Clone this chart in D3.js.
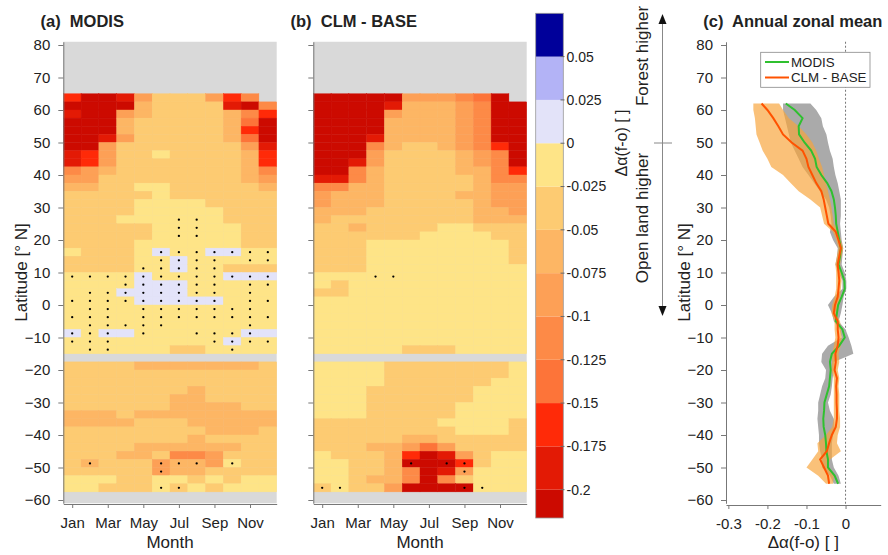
<!DOCTYPE html>
<html><head><meta charset="utf-8">
<script src="https://cdn.jsdelivr.net/npm/d3@7/dist/d3.min.js"></script>
<style>
body{margin:0;background:#fff;}
svg text{font-family:"Liberation Sans",Arial,Helvetica,sans-serif;fill:#222;}
</style></head><body>
<svg id="chart" width="888" height="555"></svg>
<script>
// ---------------- DATA ----------------
const months = ["Jan","Feb","Mar","Apr","May","Jun","Jul","Aug","Sep","Oct","Nov","Dec"];
const monthTicks = [1,3,5,7,9,11];
const latTicks = [80,70,60,50,40,30,20,10,0,-10,-20,-30,-40,-50,-60];
const zonalXTicks = [-0.3,-0.2,-0.1,0];
const cbarTicks = [0.05,0.025,0,-0.025,-0.05,-0.075,-0.1,-0.125,-0.15,-0.175,-0.2];
// upper edge (°N) of each 2.5° latitude row
const latTops = [65,62.5,60,57.5,55,52.5,50,47.5,45,42.5,40,37.5,35,32.5,30,27.5,25,22.5,20,17.5,15,12.5,10,7.5,5,2.5,0,-2.5,-5,-7.5,-10,-12.5,-15,-17.5,-20,-22.5,-25,-27.5,-30,-32.5,-35,-37.5,-40,-42.5,-45,-47.5,-50,-52.5,-55];
// class codes -> representative Δα value (bin centre); '.' = no data
const classValue = {"B":0.0625,"b":0.0375,"l":0.0125,"0":-0.0125,"1":-0.0375,"2":-0.0625,"3":-0.0875,"4":-0.1125,"5":-0.1375,"6":-0.1625,"7":-0.1875,"8":-0.2125};
// monthly Δα(f-o) classes, Jan..Dec, one string per latitude row
const modisRows = [
"68873111364.","888821111784","788321111246","888211111258","888211111268","887311111258",
"883111111137","763110111126","763111111126","432111111124","331111111123","221100111112",
"111110111111","111100001111","111100000111","111000000111","111110000011","111110000011",
"111100000011","01110l00ll00","111100l00000","111100l00111","0000l0000lll","0000lll00000",
"000llll00000","0000lllll000","000000000000","000000000000","000000000000","l0ll000000ll",
"000000000l00","000000110000","............","111122222221","111111111111","111111111111",
"111111121111","111111221111","111111222211","222122222222","222211122222","111111112221",
"111111121111","111122222211","111221443111","121113223011","111113221111","000110010100",
"001110101000"];
const clmRows = [
"88888333458.","888872223488","888832223488","888822223488","888822223488","888722223488",
"888421123468","888311112348","887311112348","884211112246","774211111244","442211111233",
"322211112233","322211111233","222111111223","211111111222","112111100111","111111000011",
"111000000001","111000000001","111000000001","111000000000","000000000000","010000000000",
"110000000000","000000000000","000000000000","000000000000","000000000000","000000000000",
"000000000000","000001110000","............","000011111110","000011111110","000011111100",
"000111111000","000111111000","000111110000","000111110000","111111100001","111111110001",
"111112211111","111223531111","011126873100","001128886100","001124873000","001224841000",
"101138888000"];
// significant cells: [row upper edge latitude, month number]
const modisSig = [
[27.5,7],[27.5,8],[25,7],[25,8],[22.5,7],[22.5,8],
[17.5,6],[17.5,7],[17.5,8],[17.5,9],[17.5,10],[17.5,11],[17.5,12],
[15,6],[15,7],[15,8],[15,9],[15,11],[15,12],
[12.5,5],[12.5,6],[12.5,7],[12.5,8],[12.5,9],
[10,1],[10,2],[10,3],[10,4],[10,5],[10,6],[10,7],[10,8],[10,9],[10,10],[10,11],[10,12],
[7.5,4],[7.5,5],[7.5,6],[7.5,7],[7.5,8],[7.5,9],[7.5,11],[7.5,12],
[5,2],[5,3],[5,4],[5,5],[5,6],[5,7],[5,8],[5,9],[5,11],
[2.5,1],[2.5,2],[2.5,3],[2.5,4],[2.5,5],[2.5,6],[2.5,7],[2.5,8],[2.5,9],[2.5,11],[2.5,12],
[0,2],[0,3],[0,5],[0,6],[0,7],[0,8],[0,9],[0,10],[0,11],
[-2.5,1],[-2.5,2],[-2.5,3],[-2.5,5],[-2.5,6],[-2.5,7],[-2.5,8],[-2.5,9],[-2.5,10],[-2.5,11],[-2.5,12],
[-5,2],[-5,3],[-5,4],[-5,5],[-5,6],[-5,11],
[-7.5,1],[-7.5,2],[-7.5,3],[-7.5,5],[-7.5,8],[-7.5,9],[-7.5,10],[-7.5,11],
[-10,1],[-10,2],[-10,3],[-10,9],[-10,10],[-10,11],[-10,12],
[-12.5,2],[-12.5,3],[-12.5,10],
[-47.5,2],[-47.5,6],[-47.5,7],[-47.5,8],[-47.5,10],
[-50,6],[-55,6],[-55,7]];
const clmSig = [[10,4],[10,5],[-47.5,6],[-47.5,8],[-47.5,9],[-50,9],[-55,1],[-55,2],[-55,9],[-55,10]];
// annual zonal means (panel c)
const zonalLat = [62,60,57.5,55,52.5,50,47.5,45,42.5,40,37.5,35,32.5,30,27.5,25,22.5,20,17.5,15,12.5,10,7.5,5,2.5,0,-2.5,-5,-7.5,-10,-12.5,-15,-17.5,-20,-22.5,-25,-27.5,-30,-32.5,-35,-37.5,-40,-42.5,-45,-47.5,-50,-52.5,-55];
const modisMean = [-0.153,-0.13,-0.11,-0.12,-0.119,-0.105,-0.088,-0.078,-0.074,-0.062,-0.047,-0.036,-0.03,-0.027,-0.025,-0.024,-0.02,-0.016,-0.012,-0.014,-0.018,-0.01,-0.003,-0.002,-0.01,-0.019,-0.022,-0.025,-0.008,-0.002,-0.016,-0.035,-0.04,-0.038,-0.04,-0.042,-0.048,-0.054,-0.055,-0.057,-0.056,-0.052,-0.05,-0.049,-0.045,-0.045,-0.028,-0.019];
const modisLo = [-0.16,-0.16,-0.155,-0.15,-0.145,-0.14,-0.13,-0.12,-0.11,-0.095,-0.08,-0.065,-0.05,-0.042,-0.038,-0.036,-0.04,-0.032,-0.02,-0.022,-0.026,-0.018,-0.008,-0.008,-0.03,-0.045,-0.035,-0.03,-0.015,-0.01,-0.045,-0.06,-0.062,-0.05,-0.052,-0.06,-0.065,-0.07,-0.07,-0.072,-0.07,-0.068,-0.068,-0.065,-0.06,-0.06,-0.04,-0.03];
const modisHi = [-0.09,-0.075,-0.062,-0.058,-0.049,-0.045,-0.04,-0.033,-0.03,-0.026,-0.02,-0.016,-0.012,-0.012,-0.012,-0.014,-0.012,-0.01,-0.006,-0.008,-0.01,-0.002,0.002,0.002,-0.005,-0.008,-0.012,-0.018,0.0,0.008,0.015,0.02,-0.03,-0.03,-0.033,-0.035,-0.038,-0.045,-0.04,-0.03,-0.028,-0.032,-0.035,-0.035,-0.035,-0.03,-0.018,-0.012];
const clmMean = [-0.215,-0.2,-0.185,-0.172,-0.16,-0.138,-0.11,-0.1,-0.095,-0.085,-0.075,-0.062,-0.056,-0.052,-0.048,-0.044,-0.025,-0.018,-0.012,-0.016,-0.02,-0.018,-0.016,-0.018,-0.02,-0.027,-0.03,-0.02,-0.02,-0.018,-0.02,-0.026,-0.025,-0.028,-0.022,-0.024,-0.023,-0.023,-0.022,-0.022,-0.025,-0.035,-0.042,-0.048,-0.065,-0.055,-0.045,-0.042];
const clmLo = [-0.236,-0.236,-0.232,-0.23,-0.228,-0.22,-0.212,-0.2,-0.19,-0.16,-0.14,-0.12,-0.09,-0.065,-0.06,-0.055,-0.032,-0.024,-0.018,-0.022,-0.026,-0.024,-0.024,-0.024,-0.028,-0.034,-0.036,-0.028,-0.028,-0.026,-0.03,-0.034,-0.034,-0.036,-0.03,-0.03,-0.03,-0.03,-0.03,-0.03,-0.034,-0.05,-0.072,-0.07,-0.085,-0.1,-0.07,-0.05];
const clmHi = [-0.17,-0.16,-0.145,-0.12,-0.1,-0.085,-0.075,-0.068,-0.06,-0.055,-0.05,-0.045,-0.04,-0.036,-0.033,-0.03,-0.018,-0.012,-0.006,-0.01,-0.014,-0.012,-0.01,-0.012,-0.014,-0.02,-0.024,-0.014,-0.012,-0.01,-0.012,-0.018,-0.016,-0.02,-0.016,-0.018,-0.016,-0.016,-0.016,-0.014,-0.014,-0.02,-0.022,-0.012,-0.04,-0.045,-0.03,-0.032];

// ---------------- STYLE / SCALES ----------------
const colorBreaks = [-0.2,-0.175,-0.15,-0.125,-0.1,-0.075,-0.05,-0.025,0,0.025,0.05];
const colorRange = ["#cc0a00","#e31a05","#ff2a08","#fd7439","#fd8a47","#fda056","#fdb664","#fdcb72","#fee487","#e3e3f9","#b3b3f6","#00009a"];
const color = d3.scaleThreshold().domain(colorBreaks).range(colorRange);
const FONT_TICK = "15px", AXIS_COL = "#777";
const svg = d3.select("#chart");
const y = d3.scaleLinear().domain([-61, 81]).range([503.25, 41.75]);
const yBottom = 504;

function styleAxis(g){
  g.selectAll("path.domain").attr("stroke", AXIS_COL);
  g.selectAll(".tick line").attr("stroke", AXIS_COL);
  g.selectAll(".tick text").attr("fill","#2a2a2a").style("font-size",FONT_TICK)
   .style("font-family","'Liberation Sans',Arial,sans-serif");
}
function rotLabel(x, yc, txt, size){
  svg.append("text").attr("transform",`translate(${x},${yc}) rotate(-90)`)
    .attr("text-anchor","middle").style("font-size",size).text(txt);
}

// ---------------- HEATMAP PANELS ----------------
const panels = [
  {rows: modisRows, sig: modisSig, x0: 63.3, title: "(a)  MODIS", tx: 40.5, labels: true},
  {rows: clmRows,   sig: clmSig,   x0: 313.3, title: "(b)  CLM - BASE", tx: 290.5, labels: false}
];
panels.forEach(p => {
  const x = d3.scaleLinear().domain([0.5, 12.5]).range([p.x0, p.x0 + 213.4]);
  const g = svg.append("g");
  g.append("rect").attr("x", x(0.5)).attr("y", y(81)).attr("width", x(12.5)-x(0.5))
    .attr("height", y(-61)-y(81)).attr("fill","#d9d9d9");
  const cells = [];
  p.rows.forEach((row, i) => {
    row.split("").forEach((c, j) => {
      if (c !== ".") cells.push({top: latTops[i], m: j+1, v: classValue[c]});
    });
  });
  g.selectAll("rect.cell").data(cells).join("rect").attr("class","cell")
    .attr("x", d => x(d.m-0.5)).attr("width", d => x(d.m+0.5)-x(d.m-0.5))
    .attr("y", d => y(d.top)).attr("height", d => y(d.top-2.5)-y(d.top))
    .attr("fill", d => color(d.v)).attr("stroke", d => color(d.v)).attr("stroke-width",0.4);
  g.selectAll("circle.sig").data(p.sig).join("circle").attr("class","sig")
    .attr("cx", d => x(d[1])).attr("cy", d => y(d[0]-1.25)).attr("r",1.15).attr("fill","#000");
  const ya = svg.append("g").attr("transform",`translate(${p.x0},0)`)
    .call(d3.axisLeft(y).tickValues(latTicks).tickSize(5).tickPadding(8).tickSizeOuter(0)
      .tickFormat(p.labels ? d3.format("d") : ""));
  styleAxis(ya);
  const xa = svg.append("g").attr("transform",`translate(0,${yBottom})`)
    .call(d3.axisBottom(x).tickValues(monthTicks).tickSize(4).tickPadding(9).tickSizeOuter(0)
      .tickFormat(m => months[m-1]));
  styleAxis(xa);
  svg.append("text").attr("x",(x(0.5)+x(12.5))/2).attr("y",548).attr("text-anchor","middle")
    .style("font-size","17px").text("Month");
  svg.append("text").attr("x",p.tx).attr("y",27).style("font-size","16.5px").style("font-weight","bold")
    .style("white-space","pre").attr("xml:space","preserve").text(p.title);
});
rotLabel(27, 272.5, "Latitude [° N]", "17px");

// ---------------- COLORBAR ----------------
const cb = d3.scaleLinear().domain([0.075, -0.225]).range([13.3, 533]);
const cbBottom = 518;
const cbBins = colorRange.map((col, i) => ({col, lo: i===0 ? -0.225 : colorBreaks[i-1], hi: i===colorRange.length-1 ? 0.075 : colorBreaks[i]}));
svg.append("g").selectAll("rect").data(cbBins).join("rect")
  .attr("x",535.7).attr("width",27.6)
  .attr("y", d => cb(d.hi)).attr("height", d => Math.min(cb(d.lo), cbBottom) - cb(d.hi))
  .attr("fill", d => d.col);
svg.append("rect").attr("x",535.7).attr("y",13.3).attr("width",27.6).attr("height",cbBottom-13.3)
  .attr("fill","none").attr("stroke","#999").attr("stroke-width",0.8);
const cbt = svg.append("g");
cbt.selectAll("line").data(cbarTicks).join("line").attr("x1",560.5).attr("x2",564.5)
  .attr("y1", d => cb(d)).attr("y2", d => cb(d)).attr("stroke","#666");
cbt.selectAll("text").data(cbarTicks).join("text").attr("x",566.5).attr("y", d => cb(d)).attr("dy","0.35em")
  .style("font-size","14px").text(d => d === 0 ? "0" : String(d));
rotLabel(627, 143, "Δα(f-o) [ ]", "16px");

// ---------------- ANNOTATION ARROW ----------------
svg.append("line").attr("x1",662.5).attr("x2",662.5).attr("y1",20).attr("y2",310).attr("stroke","#888");
svg.append("path").attr("d","M662.5,14 L658.5,24 L666.5,24 Z").attr("fill","#111");
svg.append("path").attr("d","M662.5,316 L658.5,306 L666.5,306 Z").attr("fill","#111");
svg.append("line").attr("x1",654).attr("x2",672).attr("y1",143).attr("y2",143).attr("stroke","#888");
rotLabel(648, 56, "Forest higher", "17px");
rotLabel(648, 218, "Open land higher", "17px");

// ---------------- PANEL C ----------------
const xc = d3.scaleLinear().domain([-0.306, 0.09]).range([726, 880.7]);
const zonal = zonalLat.map((lat, i) => ({lat, mm: modisMean[i], ml: modisLo[i], mh: modisHi[i], cm: clmMean[i], cl: clmLo[i], ch: clmHi[i]}));
svg.append("line").attr("x1",xc(0)).attr("x2",xc(0)).attr("y1",y(81)).attr("y2",yBottom)
  .attr("stroke","#555").attr("stroke-width",0.8).attr("stroke-dasharray","2,2");
svg.append("path").datum(zonal).attr("fill","#aaaaaa")
  .attr("d", d3.area().y(d => y(d.lat)).x0(d => xc(d.ml)).x1(d => xc(d.mh)));
svg.append("path").datum(zonal).attr("fill","#f7a33a").attr("fill-opacity",0.68)
  .attr("d", d3.area().y(d => y(d.lat)).x0(d => xc(d.cl)).x1(d => xc(d.ch)));
svg.append("path").datum(zonal).attr("fill","none").attr("stroke","#2fc02f").attr("stroke-width",2)
  .attr("d", d3.line().y(d => y(d.lat)).x(d => xc(d.mm)));
svg.append("path").datum(zonal).attr("fill","none").attr("stroke","#ff5200").attr("stroke-width",2)
  .attr("d", d3.line().y(d => y(d.lat)).x(d => xc(d.cm)));
const yc = svg.append("g").attr("transform","translate(726,0)")
  .call(d3.axisLeft(y).tickValues(latTicks).tickSize(5).tickPadding(8).tickSizeOuter(0));
styleAxis(yc);
const xca = svg.append("g").attr("transform",`translate(0,${yBottom+1})`)
  .call(d3.axisBottom(xc).tickValues(zonalXTicks).tickSize(4).tickPadding(9).tickSizeOuter(0)
    .tickFormat(d => d === 0 ? "0" : String(d)));
styleAxis(xca);
svg.append("text").attr("x",803.3).attr("y",548).attr("text-anchor","middle").style("font-size","17px").text("Δα(f-o) [ ]");
rotLabel(690, 272.5, "Latitude [° N]", "17px");
svg.append("text").attr("x",703.3).attr("y",27).style("font-size","16.5px").style("font-weight","bold")
  .style("white-space","pre").attr("xml:space","preserve").text("(c)  Annual zonal mean");
// legend
const lg = svg.append("g");
lg.append("rect").attr("x",760.7).attr("y",52.3).attr("width",109.3).attr("height",35)
  .attr("fill","#fff").attr("stroke","#888").attr("stroke-width",0.8);
const legendItems = [{name:"MODIS", col:"#2fc02f"}, {name:"CLM - BASE", col:"#ff5200"}];
legendItems.forEach((it, i) => {
  const yy = 62 + i*15.5;
  lg.append("line").attr("x1",765).attr("x2",789).attr("y1",yy).attr("y2",yy).attr("stroke",it.col).attr("stroke-width",2);
  lg.append("text").attr("x",791).attr("y",yy).attr("dy","0.36em").style("font-size","13.3px").text(it.name);
});
</script>
</body></html>
